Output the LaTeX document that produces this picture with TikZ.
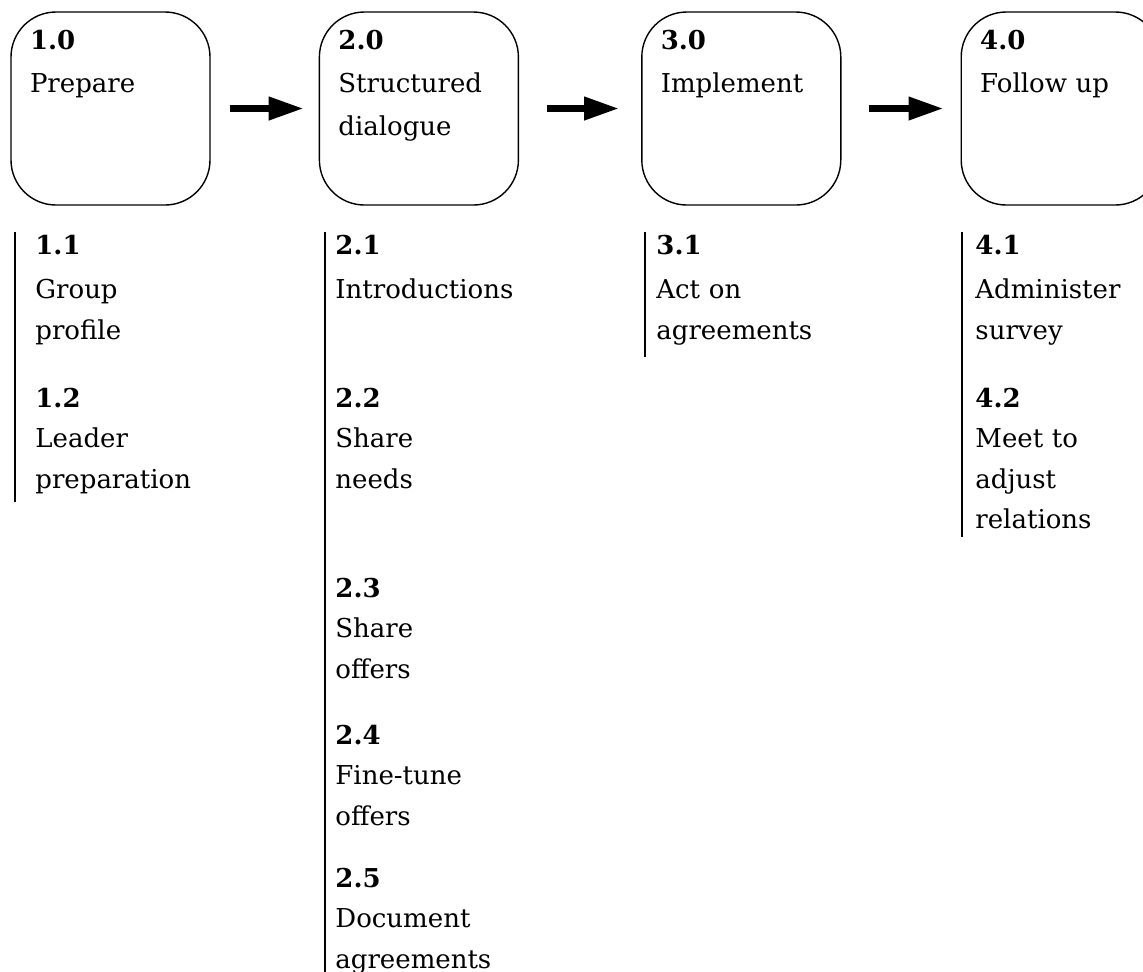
\documentclass[tikz,border=0pt]{standalone}
\usepackage{fontspec}
\setmainfont{DejaVu Serif}
\usetikzlibrary{arrows.meta, positioning}

\begin{document}
\begin{tikzpicture}[
    x=0.5pt, y=-0.5pt,
    stage/.style={rectangle, draw, line width=0.7pt, rounded corners=22.5pt, text width=80.5pt, align=left, inner xsep=9.5pt, inner ysep=5pt, text height=13.5pt, text depth=73pt, font=\fontsize{13pt}{21.5pt}\selectfont},
    task/.style={anchor=base west, text width=95pt, align=left, inner sep=0pt, font=\fontsize{13pt}{20.25pt}\selectfont},
    flow/.style={-{Triangle[length=17.5pt, width=11pt]}, line width=3.5pt},
    rule/.style={line width=0.7pt},
    node distance=54pt
]
\useasboundingbox (0,0) rectangle (1143,971);

% Stages
\node[stage] (prep) at (110.5,108.5) {\textbf{1.0}\\Prepare};
\node[stage, right=54pt of prep] (dial) {\textbf{2.0}\\Structured\\dialogue};
\node[stage, right=61pt of dial] (impl) {\textbf{3.0}\\Implement};
\node[stage, right=59.5pt of impl] (foll) {\textbf{4.0}\\Follow up};

% Arrows
\draw[flow, shorten <=9.5pt, shorten >=7.5pt] (prep) -- (dial);
\draw[flow, shorten <=14pt, shorten >=11pt] (dial) -- (impl);
\draw[flow, shorten <=13.5pt, shorten >=8.5pt] (impl) -- (foll);

% Tasks
\node[task] (t11) at (35,254) {\textbf{1.1}\\[2pt]Group\\profile};
\node[task] (t12) at (35,407) {\textbf{1.2}\\Leader\\preparation};

\node[task] (t21) at (335,254) {\textbf{2.1}\\[2pt]Introductions};
\node[task] (t22) at (335,407) {\textbf{2.2}\\Share\\needs};
\node[task] (t23) at (335,597) {\textbf{2.3}\\Share\\offers};
\node[task] (t24) at (335,744) {\textbf{2.4}\\Fine-tune\\offers};
\node[task] (t25) at (335,887) {\textbf{2.5}\\Document\\agreements};

\node[task] (t31) at (656,254) {\textbf{3.1}\\[2pt]Act on\\agreements};

\node[task] (t41) at (975,254) {\textbf{4.1}\\[2pt]Administer\\survey};
\node[task] (t42) at (975,407) {\textbf{4.2}\\Meet to\\adjust\\relations};

% Rules
\draw[rule] ([xshift=-10pt, yshift=1pt]t11.north west) -- ([xshift=-10pt, yshift=-4pt]t12.south west);
\draw[rule] ([xshift=-5pt, yshift=1pt]t21.north west) -- ([xshift=-5pt, yshift=-10pt]t25.south west);
\draw[rule] ([xshift=-5.5pt, yshift=1pt]t31.north west) -- ([xshift=-5.5pt, yshift=-6pt]t31.south west);
\draw[rule] ([xshift=-6.5pt, yshift=1pt]t41.north west) -- ([xshift=-6.5pt, yshift=-4pt]t42.south west);

\end{tikzpicture}
\end{document}
